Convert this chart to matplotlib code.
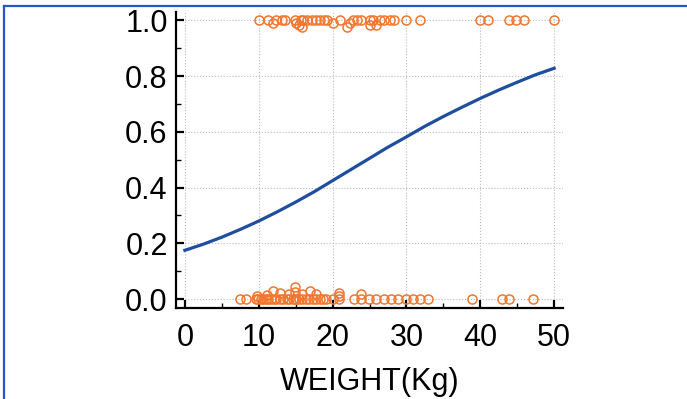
"""
Logistic regression curve of outcome probability against body weight,
with the observed 0/1 outcomes drawn as open circles.
"""

import matplotlib
matplotlib.use("Agg")
import matplotlib.pyplot as plt
from matplotlib.lines import Line2D
from matplotlib.ticker import MultipleLocator

plt.rcParams["font.family"] = ["Liberation Sans", "DejaVu Sans"]

# Fitted probability, every 2.5 kg
curve_weight = [0, 2.5, 5, 7.5, 10, 12.5, 15, 17.5, 20, 22.5, 25,
                27.5, 30, 32.5, 35, 37.5, 40, 42.5, 45, 47.5, 50]
curve_prob = [0.175, 0.197, 0.222, 0.250, 0.280, 0.313, 0.348, 0.385, 0.425, 0.465, 0.505,
              0.545, 0.582, 0.620, 0.655, 0.688, 0.720, 0.750, 0.778, 0.805, 0.828]

# Observed outcome = 1 (with the small vertical offsets used to separate ties)
weight_1 = [10.0, 11.3, 11.9, 12.4, 13.1, 13.6, 14.9, 15.0, 15.4, 15.7, 15.9, 16.0,
            16.6, 17.2, 17.7, 18.3, 18.8, 19.3, 20.0, 21.0, 21.9, 22.4, 22.7, 23.3,
            23.9, 25.0, 25.0, 25.5, 25.9, 26.4, 26.9, 27.8, 28.3, 29.9, 31.8, 39.9,
            41.0, 43.9, 44.9, 45.9, 50.0]
y_1 = [1.0, 1.0, 0.99, 1.0, 1.0, 1.0, 1.0, 0.99, 0.985, 1.0, 0.975, 1.0,
       1.0, 1.0, 1.0, 1.0, 1.0, 1.0, 0.99, 1.0, 0.975, 0.99, 1.0, 1.0,
       1.0, 1.0, 0.985, 1.0, 0.985, 1.0, 1.0, 1.0, 1.0, 1.0, 1.0, 1.0,
       1.0, 1.0, 1.0, 1.0, 1.0]

# Observed outcome = 0
weight_0 = [7.5, 8.3, 9.6, 9.8, 9.9, 10.3, 10.6, 11.0, 11.1, 11.3, 11.7, 12.0,
            12.1, 12.4, 12.9, 12.9, 13.3, 13.8, 14.1, 14.1, 14.6, 14.9, 14.9, 14.9,
            15.0, 15.5, 15.9, 15.9, 16.4, 16.8, 16.9, 17.3, 17.8, 17.8, 18.3, 18.7,
            19.1, 20.0, 20.9, 20.9, 20.9, 22.9, 23.9, 23.9, 24.9, 25.9, 26.9, 27.9,
            28.9, 29.9, 30.9, 31.9, 32.9, 38.9, 42.9, 43.9, 47.2]
y_0 = [0.0, 0.0, 0.0, 0.012, 0.0, 0.0, 0.0, 0.0, 0.014, 0.0, 0.0, 0.03,
       0.0, 0.0, 0.0, 0.023, 0.0, 0.0, 0.0, 0.02, 0.0, 0.0, 0.026, 0.042,
       0.0, 0.0, 0.0, 0.02, 0.0, 0.0, 0.03, 0.0, 0.0, 0.02, 0.0, 0.0,
       0.0, 0.0, 0.0, 0.012, 0.023, 0.0, 0.0, 0.017, 0.0, 0.0, 0.0, 0.0,
       0.0, 0.0, 0.0, 0.0, 0.0, 0.0, 0.0, 0.0, 0.0]

x_ticks = [0, 10, 20, 30, 40, 50]
y_ticks = [0.0, 0.2, 0.4, 0.6, 0.8, 1.0]

ORANGE = "#F2762E"
BLUE = "#1F4E9E"

fig = plt.figure(figsize=(6.87, 3.99), dpi=100)
ax = fig.add_axes([0.2562, 0.228, 0.5633, 0.742])

ax.grid(True, which="major", ls=":", color="#BBBBBB", lw=0.8)
ax.set_axisbelow(True)

ax.plot(weight_0, y_0, "o", mfc="none", mec=ORANGE, ms=6.5, mew=1.1, zorder=3)
ax.plot(weight_1, y_1, "o", mfc="none", mec=ORANGE, ms=6.5, mew=1.1, zorder=3)
ax.plot(curve_weight, curve_prob, color=BLUE, lw=2.3, zorder=4)

ax.set_xlim(-1.2, 51.2)
ax.set_ylim(-0.032, 1.03)
ax.set_xticks(x_ticks)
ax.set_yticks(y_ticks)
ax.set_yticklabels([f"{v:.1f}" for v in y_ticks])
ax.xaxis.set_minor_locator(MultipleLocator(5))
ax.yaxis.set_minor_locator(MultipleLocator(0.1))

for side in ("top", "right"):
    ax.spines[side].set_visible(False)
for side in ("left", "bottom"):
    ax.spines[side].set_linewidth(1.6)

ax.tick_params(which="major", direction="in", length=6, width=1.6, labelsize=22)
ax.tick_params(which="minor", direction="in", length=3.5, width=1.0)
ax.tick_params(axis="x", which="major", pad=11)
ax.tick_params(axis="y", which="major", pad=6)

ax.set_xlabel("WEIGHT(Kg)", fontsize=22, labelpad=10)

# blue frame along the top and left edge of the figure
fig.add_artist(Line2D([0.006, 1.0], [0.985, 0.985], transform=fig.transFigure,
                      color="#2457C5", lw=1.6))
fig.add_artist(Line2D([0.006, 0.006], [0.0, 0.985], transform=fig.transFigure,
                      color="#2457C5", lw=1.6))

plt.savefig("out.png", dpi=100)
